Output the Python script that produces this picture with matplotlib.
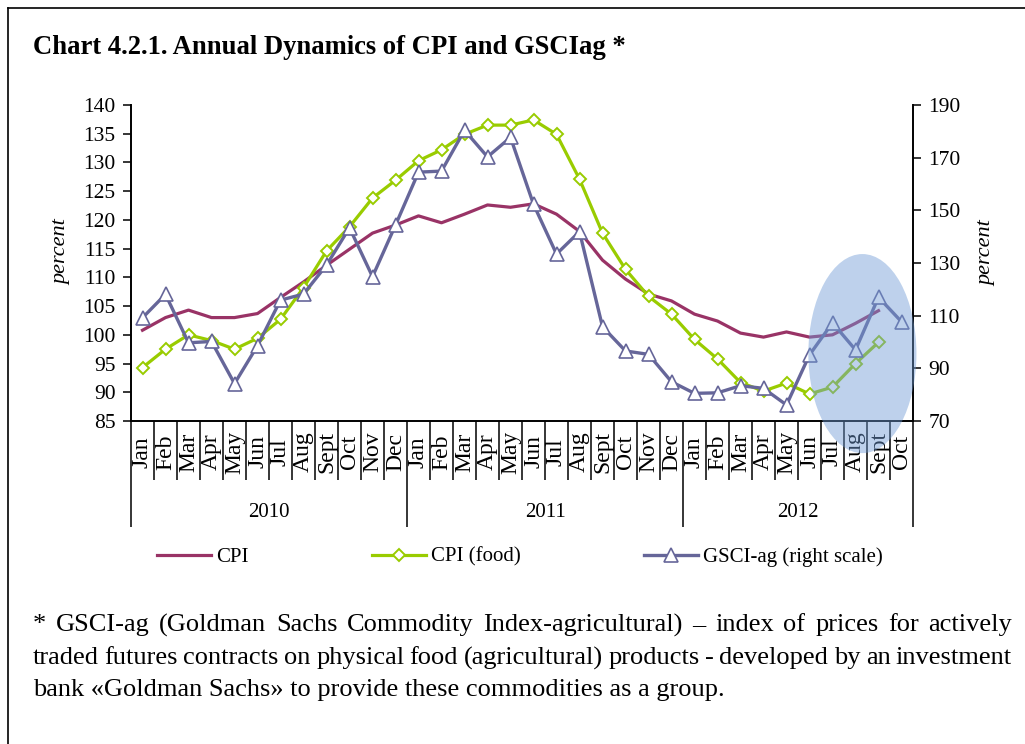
import numpy as np
import matplotlib
matplotlib.use("Agg")
import matplotlib.pyplot as plt
from matplotlib.patches import Ellipse
from matplotlib.lines import Line2D

plt.rcParams['font.family'] = ['Liberation Serif', 'DejaVu Serif']

months = ["Jan", "Feb", "Mar", "Apr", "May", "Jun", "Jul", "Aug", "Sept", "Oct", "Nov", "Dec"]
month_labels = months + months + months[:10]
years = ["2010", "2011", "2012"]
year_len = [12, 12, 10]

cpi = [100.8, 103.0, 104.3, 103.0, 103.0, 103.7, 106.5, 109.2, 112.1, 114.9, 117.7, 119.1,
       120.7, 119.5, 121.0, 122.6, 122.2, 122.8, 121.0, 118.0, 113.0, 109.7, 107.1, 105.9,
       103.6, 102.4, 100.3, 99.6, 100.5, 99.6, 100.0, 102.0, 104.2]
cpi_food = [94.3, 97.5, 100.0, 99.0, 97.5, 99.4, 102.7, 108.2, 114.6, 118.8, 123.8, 126.9,
            130.3, 132.2, 134.9, 136.5, 136.5, 137.4, 134.9, 127.1, 117.7, 111.4, 106.7, 103.6,
            99.2, 95.8, 91.7, 90.2, 91.6, 89.7, 90.9, 95.0, 98.7]
gsci = [109.2, 118.1, 99.7, 100.2, 84.2, 98.6, 115.9, 118.2, 129.2, 143.4, 124.8, 144.4,
        164.5, 164.9, 180.4, 170.3, 177.7, 152.3, 133.4, 141.9, 105.8, 96.6, 95.3, 84.9,
        80.5, 80.7, 83.4, 82.4, 76.1, 95.1, 107.3, 97.0, 117.0, 107.7]

W, H = 1025, 744
fig = plt.figure(figsize=(W / 100, H / 100), dpi=100)

# outer frame (left + top only)
fig.add_artist(Line2D([8 / W, 8 / W], [0, 1 - 8 / H], color="black", lw=1.2))
fig.add_artist(Line2D([8 / W, 1], [1 - 8 / H, 1 - 8 / H], color="black", lw=1.2))

fig.text(33 / W, 1 - 47 / H, "Chart 4.2.1. Annual Dynamics of CPI and GSCIag *",
         fontsize=19.2, fontweight="bold", va="center", ha="left")

left, right, top, bottom = 131, 913, 105, 421
ax = fig.add_axes([left / W, 1 - bottom / H, (right - left) / W, (bottom - top) / H])
ax2 = ax.twinx()

n = len(month_labels)
x = np.arange(n)

l1, = ax.plot(x[:len(cpi)], cpi, color="#993366", lw=2.3, label="CPI", zorder=3)
l2, = ax.plot(x[:len(cpi_food)], cpi_food, color="#99CC00", lw=2.3, marker="D",
              markersize=6, markerfacecolor="white", markeredgecolor="#99CC00",
              markeredgewidth=1.4, label="CPI (food)", zorder=4)
l3, = ax2.plot(x[:len(gsci)], gsci, color="#666699", lw=2.4, marker="^",
               markersize=9.5, markerfacecolor="white", markeredgecolor="#666699",
               markeredgewidth=1.2, label="GSCI-ag (right scale)", zorder=3)

ax.set_xlim(-0.5, n - 0.5)
ax.set_ylim(85, 140)
ax.set_yticks(np.arange(85, 141, 5))
ax2.set_ylim(70, 190)
ax2.set_yticks(np.arange(70, 191, 20))

for a in (ax, ax2):
    a.spines["top"].set_visible(False)
    for s in ("left", "right", "bottom"):
        a.spines[s].set_linewidth(1.4)
    a.tick_params(axis="y", direction="out", length=6, width=1.1, labelsize=15.5, pad=5)

ax.spines["right"].set_visible(False)
ax2.spines["left"].set_visible(False)
ax2.spines["bottom"].set_visible(False)

# category separators
bounds_major = np.cumsum([0] + year_len) - 0.5
ax.set_xticks(bounds_major)
ax.set_xticks(np.arange(n + 1) - 0.5, minor=True)
ax.tick_params(axis="x", which="major", length=76, width=1.1, labelbottom=False)
ax.tick_params(axis="x", which="minor", length=42.5, width=1.1, labelbottom=False)

trans = ax.get_xaxis_transform()
for i, m in enumerate(month_labels):
    ax.text(i, -0.098, m, rotation=90, ha="center", va="center", fontsize=17, transform=trans)
start = 0
for yr, ln in zip(years, year_len):
    ax.text(start + (ln - 1) / 2, -0.291, yr, ha="center", va="center", fontsize=15,
            transform=trans)
    start += ln

fig.text(62 / W, 1 - 252 / H, "percent", rotation=90, style="italic", fontsize=16,
         ha="center", va="center")
fig.text(987 / W, 1 - 253 / H, "percent", rotation=90, style="italic", fontsize=16,
         ha="center", va="center")

# highlight ellipse
ell = Ellipse((31.3, 95.6), width=4.7, height=75.6, facecolor="#6F9BD6", alpha=0.45,
              edgecolor="none", zorder=10, clip_on=False)
ax2.add_patch(ell)

fig.legend(handles=[l1, l2, l3], loc="center", bbox_to_anchor=(520 / W, 1 - 557 / H),
           ncol=3, frameon=False, fontsize=15, handlelength=2.6, handletextpad=0.25,
           columnspacing=5.9, numpoints=1)

# footnote, justified lines
r = fig.canvas.get_renderer()
fs = 19
x0, x1 = 33, 1012


def justify(line, ypx):
    words = line.split(" ")
    txts = [fig.text(0, 1 - ypx / H, w, fontsize=fs, va="center", ha="left") for w in words]
    widths = [t.get_window_extent(r).width for t in txts]
    gap = (x1 - x0 - sum(widths)) / (len(words) - 1)
    xp = x0
    for t, w in zip(txts, widths):
        t.set_x(xp / W)
        xp += w + gap


justify("* GSCI-ag (Goldman Sachs Commodity Index-agricultural) \u2013 index of prices for actively", 625)
justify("traded futures contracts on physical food (agricultural) products - developed by an investment", 658)
fig.text(x0 / W, 1 - 690 / H, "bank \u00abGoldman Sachs\u00bb to provide these commodities as a group.",
         fontsize=fs, va="center", ha="left")

fig.savefig("out.png", dpi=100)
